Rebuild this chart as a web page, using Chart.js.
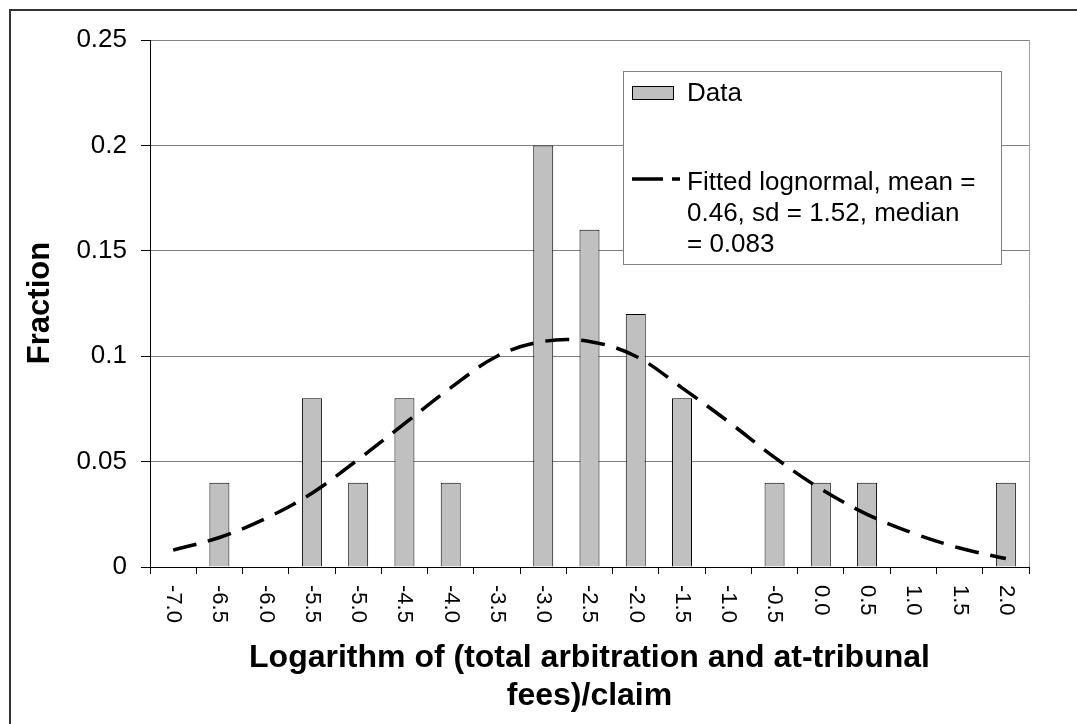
<!DOCTYPE html>
<html>
<head>
<meta charset="utf-8">
<script src="https://cdn.jsdelivr.net/npm/chart.js@4"></script>
<style>
  body { margin: 0; background: #fff; }
  #wrap { position: relative; width: 1077px; height: 724px; }
</style>
</head>
<body>
<div id="wrap"><canvas id="histChart"></canvas></div>
<script>
// Histogram of log(fees/claim) + fitted lognormal curve

const categories = ['-7.0', '-6.5', '-6.0', '-5.5', '-5.0', '-4.5', '-4.0', '-3.5', '-3.0', '-2.5',
                    '-2.0', '-1.5', '-1.0', '-0.5', '0.0', '0.5', '1.0', '1.5', '2.0'];
const dataFraction = [null, 0.04, null, 0.08, 0.04, 0.08, 0.04, null, 0.2, 0.16,
                      0.12, 0.08, null, 0.04, 0.04, 0.04, null, null, 0.04];
const fittedLognormal = [0.008, 0.014, 0.023, 0.035, 0.051, 0.068, 0.085, 0.1, 0.107, 0.107,
                         0.1, 0.085, 0.069, 0.052, 0.037, 0.025, 0.016, 0.009, 0.004];
const yTicks = [0, 0.05, 0.1, 0.15, 0.2, 0.25];
const xTitle = ['Logarithm of (total arbitration and at-tribunal', 'fees)/claim'];
const yTitle = 'Fraction';
const legendData = 'Data';
const legendFit = ['Fitted lognormal, mean =', '0.46, sd = 1.52, median', '= 0.083'];

const FONT = '"Liberation Sans", Arial, sans-serif';

// Frame, plot border, rotated tick labels, titles and legend box
const extras = {
    id: 'extras',
    beforeDraw(chart) {
        const ctx = chart.ctx;
        ctx.save();
        ctx.strokeStyle = '#333';
        ctx.lineWidth = 2;
        ctx.beginPath();
        ctx.moveTo(10, 724);
        ctx.lineTo(10, 10);
        ctx.lineTo(1077, 10);
        ctx.stroke();
        ctx.restore();
    },
    beforeDatasetsDraw(chart) {
        const ctx = chart.ctx, a = chart.chartArea;
        ctx.save();
        ctx.strokeStyle = '#a0a0a0';
        ctx.lineWidth = 1;
        ctx.beginPath();
        ctx.moveTo(Math.round(a.right) + 0.5, a.top);
        ctx.lineTo(Math.round(a.right) + 0.5, a.bottom);
        ctx.stroke();
        ctx.restore();
    },
    afterDraw(chart) {
        const ctx = chart.ctx, a = chart.chartArea;
        const xs = chart.scales.x;
        ctx.save();
        ctx.fillStyle = '#000';

        // x tick labels, turned clockwise
        ctx.font = '22px ' + FONT;
        ctx.textAlign = 'left';
        ctx.textBaseline = 'middle';
        categories.forEach((c, i) => {
            ctx.save();
            ctx.translate(xs.getPixelForTick(i), a.bottom + 18);
            ctx.rotate(Math.PI / 2);
            ctx.fillText(c, 0, 0);
            ctx.restore();
        });

        // axis titles
        ctx.font = 'bold 32px ' + FONT;
        ctx.textAlign = 'center';
        ctx.textBaseline = 'alphabetic';
        const cx = (a.left + a.right) / 2;
        ctx.fillText(xTitle[0], cx, 667);
        ctx.fillText(xTitle[1], cx, 705);
        ctx.font = 'bold 31px ' + FONT;
        ctx.save();
        ctx.translate(49, 303);
        ctx.rotate(-Math.PI / 2);
        ctx.fillText(yTitle, 0, 0);
        ctx.restore();

        // legend box
        ctx.fillStyle = '#fff';
        ctx.fillRect(623, 71, 378, 193);
        ctx.strokeStyle = '#808080';
        ctx.lineWidth = 1;
        ctx.strokeRect(623.5, 71.5, 378, 193);
        ctx.fillStyle = '#c0c0c0';
        ctx.fillRect(632, 86, 42, 14);
        ctx.strokeStyle = '#000';
        ctx.strokeRect(632.5, 86.5, 41, 13);
        ctx.lineWidth = 3.5;
        ctx.beginPath();
        ctx.moveTo(632, 179); ctx.lineTo(663, 179);
        ctx.moveTo(672, 179); ctx.lineTo(680, 179);
        ctx.stroke();
        ctx.fillStyle = '#000';
        ctx.font = '26px ' + FONT;
        ctx.textAlign = 'left';
        ctx.textBaseline = 'middle';
        ctx.fillText(legendData, 687, 94);
        legendFit.forEach((t, i) => ctx.fillText(t, 687, 183 + i * 31));
        ctx.restore();
    }
};

const ctx = document.getElementById('histChart').getContext('2d');
new Chart(ctx, {
    type: 'bar',
    data: {
        labels: categories,
        datasets: [
            {
                type: 'line', label: legendFit.join(' '), data: fittedLognormal, order: 0,
                borderColor: '#000', borderWidth: 3.5, borderDash: [24, 12], borderCapStyle: 'butt',
                pointRadius: 0, tension: 0.35, fill: false
            },
            {
                label: legendData, data: dataFraction, order: 1,
                backgroundColor: '#c0c0c0', borderColor: '#000', borderWidth: 1,
                categoryPercentage: 1, barPercentage: 0.432
            }
        ]
    },
    options: {
        responsive: true,
        maintainAspectRatio: false,
        animation: false,
        layout: { padding: { left: 0, top: 40, right: 48, bottom: 0 } },
        plugins: { legend: { display: false }, tooltip: { enabled: false } },
        scales: {
            x: {
                afterFit: s => { s.height = 157; },
                ticks: { display: false },
                grid: { offset: true, drawOnChartArea: false, drawTicks: true, tickLength: 7, tickColor: '#000' },
                border: { display: true, color: '#000', width: 1 }
            },
            y: {
                min: 0, max: 0.25,
                afterFit: s => { s.width = 150; },
                afterBuildTicks: s => { s.ticks = yTicks.map(v => ({ value: v })); },
                ticks: {
                    padding: 14, color: '#000',
                    font: { family: FONT, size: 26 },
                    callback: v => String(+Number(v).toFixed(2))
                },
                grid: { color: '#808080', tickColor: '#000', tickLength: 9 },
                border: { display: true, color: '#000', width: 1 }
            }
        }
    },
    plugins: [extras]
});
</script>
</body>
</html>
